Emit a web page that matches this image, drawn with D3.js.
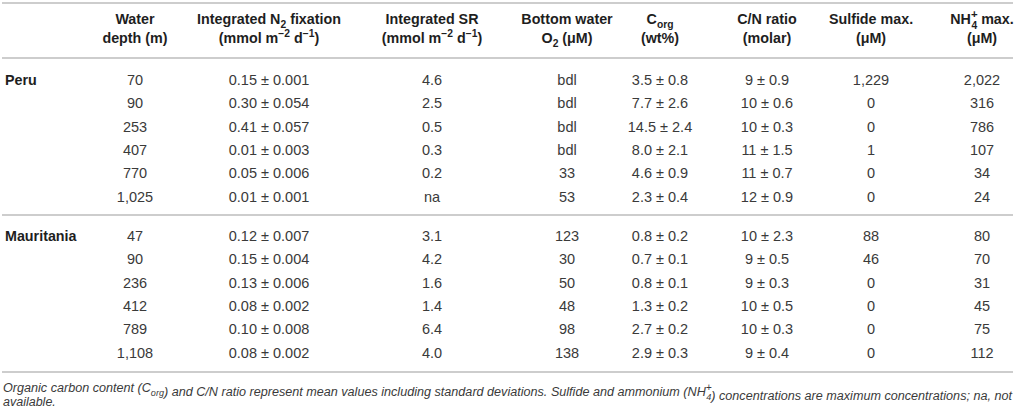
<!DOCTYPE html>
<html>
<head>
<meta charset="utf-8">
<script src="https://cdn.jsdelivr.net/npm/d3@7"></script>
<style>
  html, body { margin: 0; padding: 0; background: #fff; }
  svg { display: block; font-family: "Liberation Sans", Arial, Helvetica, sans-serif; }
</style>
</head>
<body>
<div class="table_plot"></div>
<script>
// table values
var sites = ["Peru", "Mauritania"];
var depth = [["70", "90", "253", "407", "770", "1,025"],
             ["47", "90", "236", "412", "789", "1,108"]];
var n2fix = [["0.15 ± 0.001", "0.30 ± 0.054", "0.41 ± 0.057", "0.01 ± 0.003", "0.05 ± 0.006", "0.01 ± 0.001"],
             ["0.12 ± 0.007", "0.15 ± 0.004", "0.13 ± 0.006", "0.08 ± 0.002", "0.10 ± 0.008", "0.08 ± 0.002"]];
var sr = [["4.6", "2.5", "0.5", "0.3", "0.2", "na"],
          ["3.1", "4.2", "1.6", "1.4", "6.4", "4.0"]];
var o2 = [["bdl", "bdl", "bdl", "bdl", "33", "53"],
          ["123", "30", "50", "48", "98", "138"]];
var corg = [["3.5 ± 0.8", "7.7 ± 2.6", "14.5 ± 2.4", "8.0 ± 2.1", "4.6 ± 0.9", "2.3 ± 0.4"],
            ["0.8 ± 0.2", "0.7 ± 0.1", "0.8 ± 0.1", "1.3 ± 0.2", "2.7 ± 0.2", "2.9 ± 0.3"]];
var cn = [["9 ± 0.9", "10 ± 0.6", "10 ± 0.3", "11 ± 1.5", "11 ± 0.7", "12 ± 0.9"],
          ["10 ± 2.3", "9 ± 0.5", "9 ± 0.3", "10 ± 0.5", "10 ± 0.3", "9 ± 0.4"]];
var sulfide = [["1,229", "0", "0", "1", "0", "0"],
               ["88", "46", "0", "0", "0", "0"]];
var nh4 = [["2,022", "316", "786", "107", "34", "24"],
           ["80", "70", "31", "45", "75", "112"]];

// header pieces: [text, "sub" | "sup" | "stack" | null]
var headers = [
  [[["Water"]], [["depth (m)"]]],
  [[["Integrated N"], ["2", "sub"], [" fixation"]], [["(mmol m"], ["−2", "sup"], [" d"], ["−1", "sup"], [")"]]],
  [[["Integrated SR"]], [["(mmol m"], ["−2", "sup"], [" d"], ["−1", "sup"], [")"]]],
  [[["Bottom water"]], [["O"], ["2", "sub"], [" (μM)"]]],
  [[["C"], ["org", "sub"]], [["(wt%)"]]],
  [[["C/N ratio"]], [["(molar)"]]],
  [[["Sulfide max."]], [["(μM)"]]],
  [[["NH"], ["+|4", "stack"], [" max."]], [["(μM)"]]]
];
var columns = [depth, n2fix, sr, o2, corg, cn, sulfide, nh4];
var footnote = ["Organic carbon content (C|org) and C/N ratio represent mean values including standard deviations. Sulfide and ammonium (NH|+4) concentrations are maximum concentrations; na, not",
                "available."];

var width = 1016, height = 412;
var svg = d3.select(".table_plot").append("svg")
  .attr("width", width).attr("height", height);

var x = d3.scaleOrdinal()
  .domain(d3.range(columns.length))
  .range([135, 269, 432, 567, 660, 767, 871, 982]);

// row baselines inside a group, group tops
var rowY = d3.scaleLinear().domain([0, 5]).range([0, 116.5]);
var groupY = d3.scaleOrdinal().domain(sites).range([85, 241]);

// rules
var rules = [3, 58, 215, 372];
svg.selectAll("line.rule").data(rules).enter().append("line")
  .attr("class", "rule")
  .attr("x1", 2).attr("x2", 1013)
  .attr("y1", function(d) { return d; }).attr("y2", function(d) { return d; })
  .style("stroke", "#cdcdcd").style("stroke-width", 2);

// rich text helper, the baseline shift is undone on the next plain piece
function rich(sel, parts, size) {
  var small = size * 0.72;
  var back = 0;
  parts.forEach(function(p) {
    var kind = p[1];
    if (!kind) {
      sel.append("tspan").attr("dy", back).text(p[0]);
      back = 0;
    } else if (kind == "sub") {
      sel.append("tspan").attr("dy", back + size * 0.3).style("font-size", small + "px").text(p[0]);
      back = -size * 0.3;
    } else if (kind == "sup") {
      sel.append("tspan").attr("dy", back - size * 0.4).style("font-size", small + "px").text(p[0]);
      back = size * 0.4;
    } else if (kind == "stack") {
      var t = p[0].split("|");
      sel.append("tspan").attr("dy", back - size * 0.42).style("font-size", (size * 0.8) + "px").text(t[0]);
      var w = size * 0.8 * 0.584;
      sel.append("tspan").attr("dx", -w + 0.5).attr("dy", size * 0.74).style("font-size", small + "px").text(t[1]);
      back = -size * 0.32;
    }
  });
}

// header
var hd = svg.append("g").attr("class", "header");
headers.forEach(function(h, i) {
  [24, 43].forEach(function(by, li) {
    var t = hd.append("text")
      .attr("x", x(i)).attr("y", by)
      .attr("text-anchor", "middle")
      .style("font-size", "14.3px").style("font-weight", "bold")
      .style("fill", "#1e1e1e");
    rich(t, h[li], 14.3);
  });
});

// body
sites.forEach(function(site, g) {
  var gg = svg.append("g").attr("transform", "translate(0," + groupY(site) + ")");
  gg.append("text")
    .attr("x", 5).attr("y", 0)
    .style("font-size", "14.3px").style("font-weight", "bold").style("fill", "#1e1e1e")
    .text(site);
  columns.forEach(function(col, c) {
    gg.selectAll("text.c" + c).data(col[g]).enter().append("text")
      .attr("class", "c" + c)
      .attr("x", x(c))
      .attr("y", function(d, i) { return rowY(i); })
      .attr("text-anchor", "middle")
      .style("font-size", "14.5px").style("fill", "#3a3a3a")
      .text(function(d) { return d; });
  });
});

// footnote
var fy = [392, 406];
footnote.forEach(function(line, li) {
  var t = svg.append("text")
    .attr("x", 3).attr("y", fy[li])
    .style("font-size", "12.5px").style("font-style", "italic").style("fill", "#3a3a3a");
  var bits = line.split(/(C\|org|NH\|\+4)/);
  bits.forEach(function(b) {
    if (b == "C|org") { rich(t, [["C"], ["org", "sub"]], 12.5); }
    else if (b == "NH|+4") { rich(t, [["NH"], ["+|4", "stack"]], 12.5); }
    else if (b.length) { rich(t, [[b]], 12.5); }
  });
  if (li == 0) {
    t.attr("textLength", 1009).attr("lengthAdjust", "spacingAndGlyphs");
  }
});
</script>
</body>
</html>
